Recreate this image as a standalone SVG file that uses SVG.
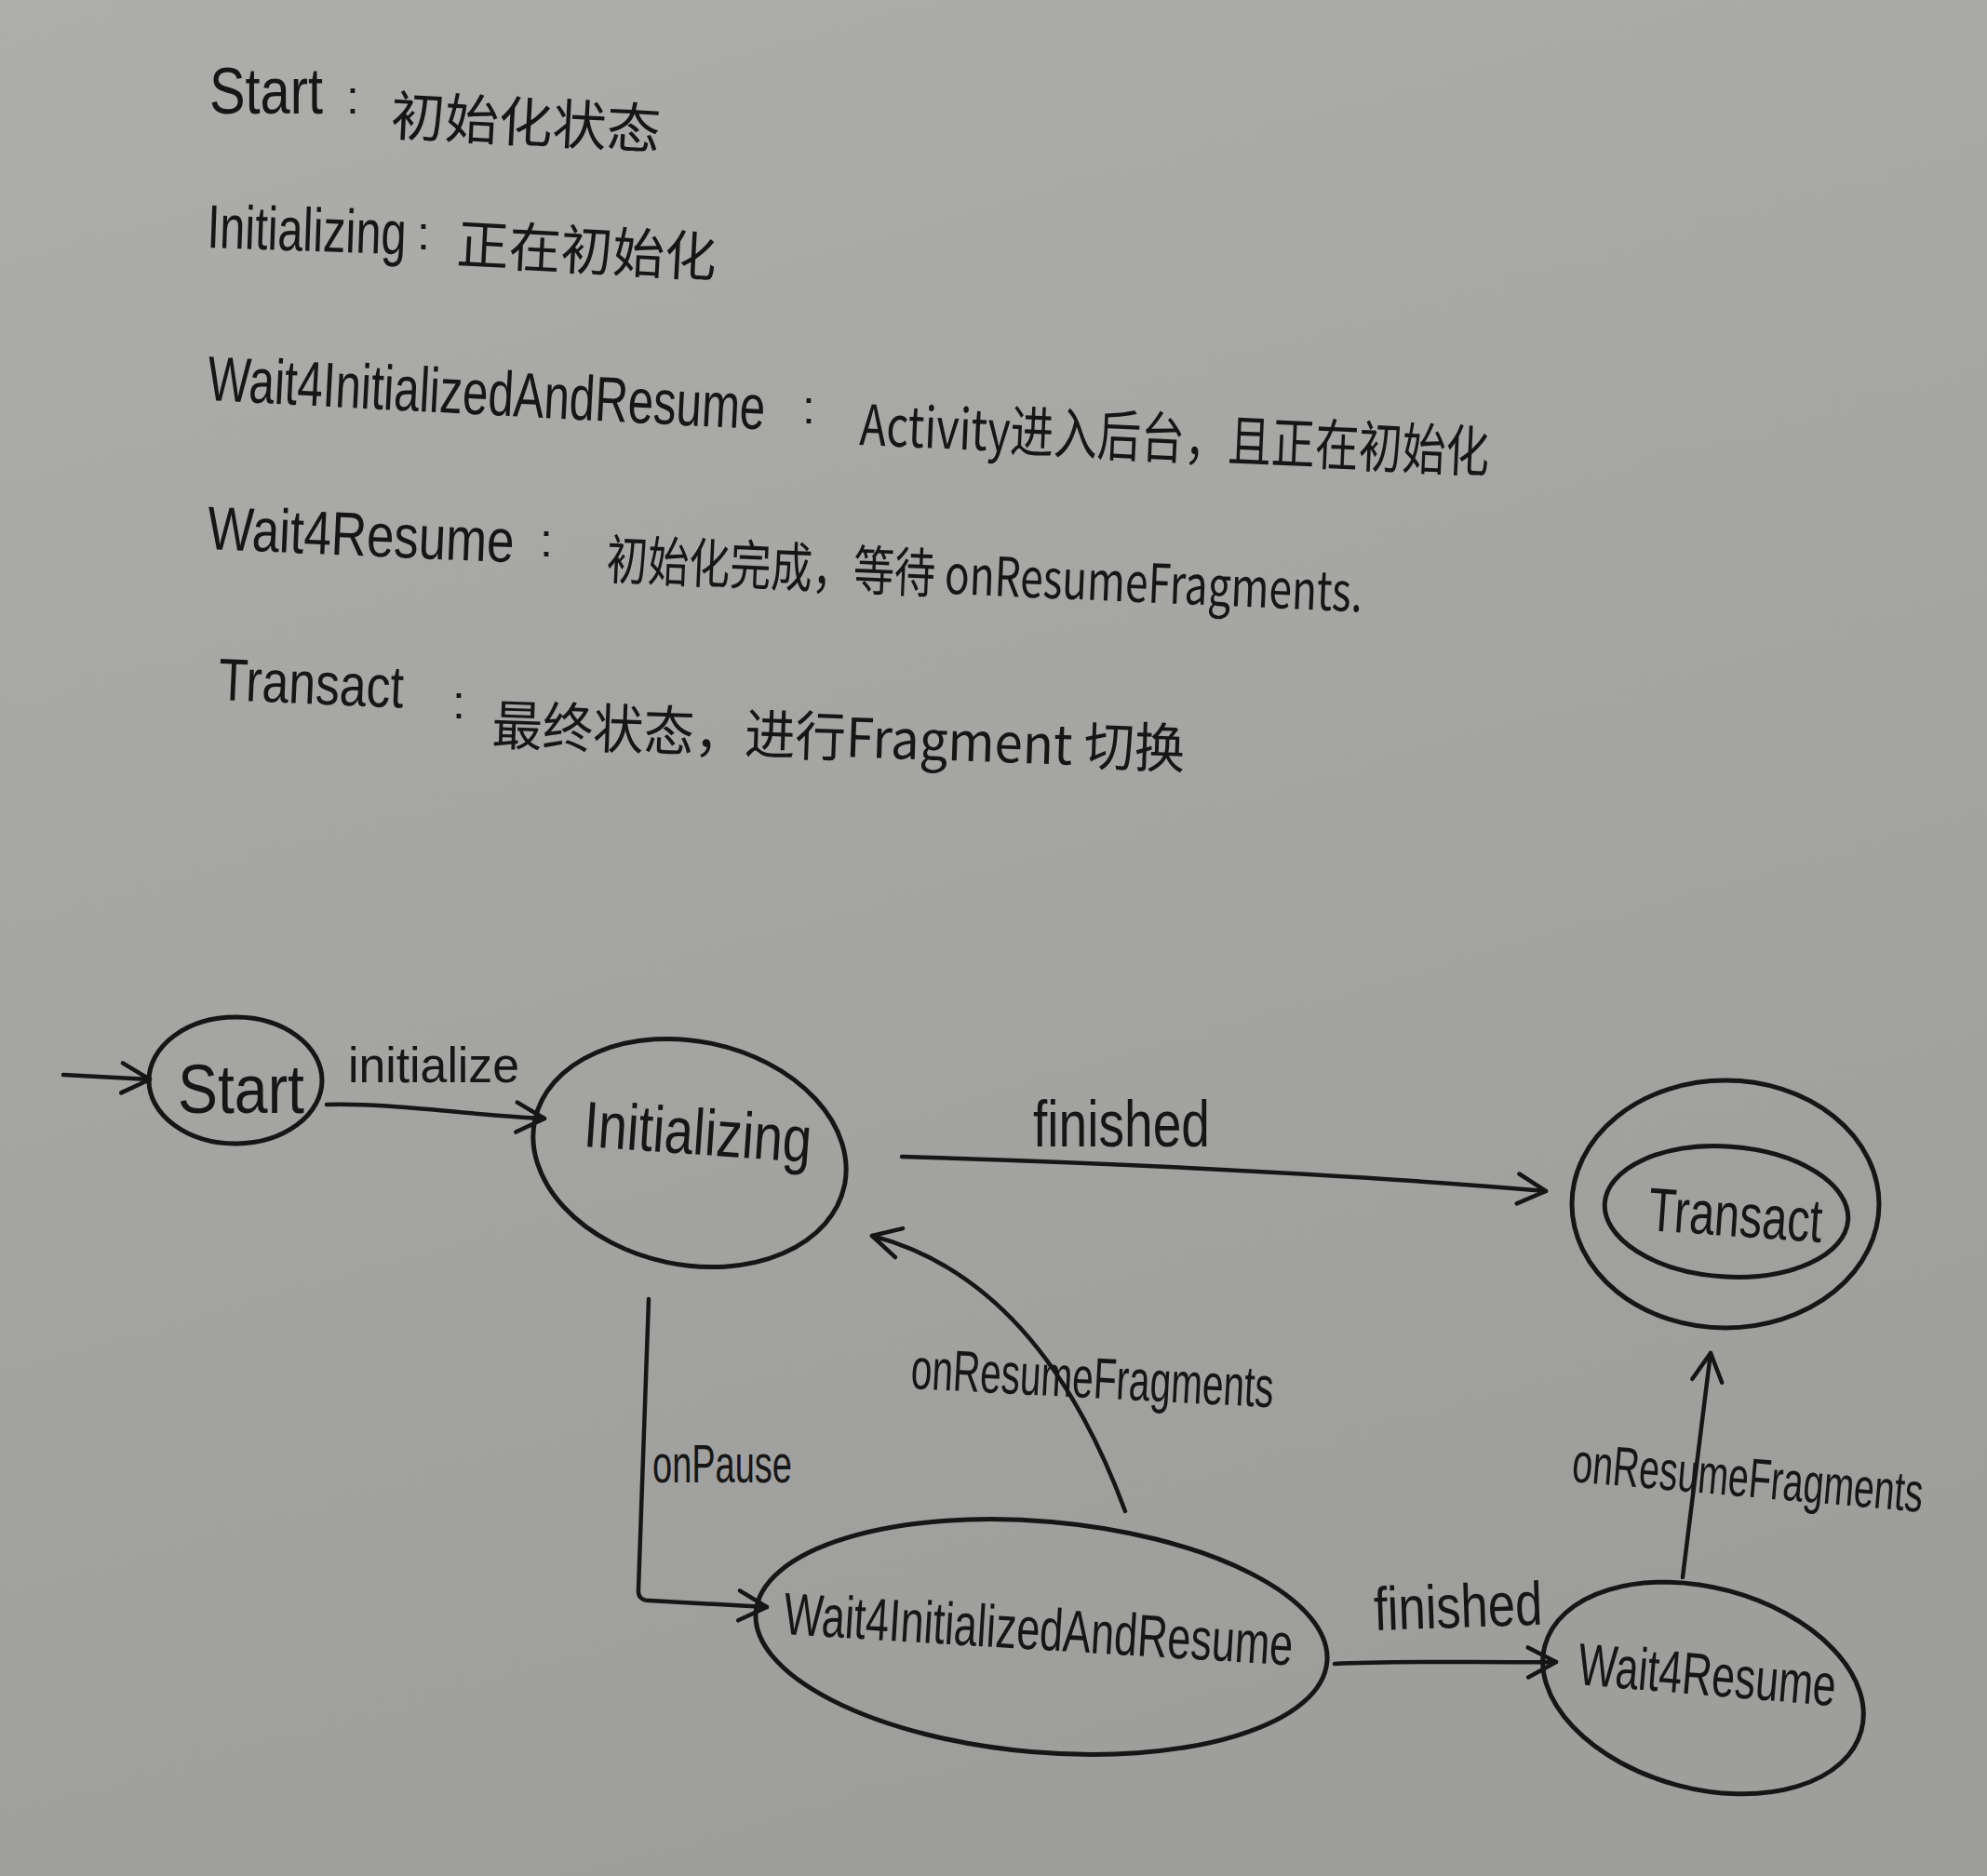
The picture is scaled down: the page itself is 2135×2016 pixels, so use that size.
<svg xmlns="http://www.w3.org/2000/svg" width="2135" height="2016" viewBox="0 0 2135 2016">
<defs>
<linearGradient id="paper" x1="0" y1="0" x2="0.3" y2="1">
<stop offset="0" stop-color="#adadab"/>
<stop offset="1" stop-color="#9e9e9c"/>
</linearGradient>
<marker id="arr" markerUnits="userSpaceOnUse" markerWidth="44" markerHeight="44" viewBox="0 0 44 44" refX="40" refY="22" orient="auto">
<path d="M10,6 L40,22 L10,38" fill="none" stroke="#151515" stroke-width="4.5" stroke-linecap="round" stroke-linejoin="round"/>
</marker>
<style>
.t{font-family:"Liberation Sans","Noto Sans CJK SC",sans-serif;fill:#161616;}
.cn{font-family:"Noto Sans CJK SC",sans-serif;fill:#161616;}
.node{fill:none;stroke:#161616;stroke-width:5;}
.edge{fill:none;stroke:#161616;stroke-width:4.5;stroke-linecap:round;stroke-linejoin:round;}
</style>
</defs>
<rect width="2135" height="2016" fill="url(#paper)"/>

<g id="legend">
<text class="t" x="225" y="122" font-size="70" textLength="122" lengthAdjust="spacingAndGlyphs">Start</text>
<text class="t" x="372" y="122" font-size="50">:</text>
<text class="cn" x="419" y="145" font-size="58" textLength="290" lengthAdjust="spacingAndGlyphs" transform="rotate(3 419 145)">初始化状态</text>

<text class="t" x="222" y="266" font-size="66" textLength="214" lengthAdjust="spacingAndGlyphs" transform="rotate(2 222 266)">Initializing</text>
<text class="t" x="448" y="268" font-size="50">:</text>
<text class="cn" x="490" y="283" font-size="58" textLength="279" lengthAdjust="spacingAndGlyphs" transform="rotate(3 490 283)">正在初始化</text>

<text class="t" x="222" y="430" font-size="68" textLength="600" lengthAdjust="spacingAndGlyphs" transform="rotate(3 222 430)">Wait4InitializedAndResume</text>
<text class="t" x="862" y="455" font-size="50">:</text>
<text class="cn" x="923" y="478" font-size="60" textLength="677" lengthAdjust="spacingAndGlyphs" transform="rotate(2.5 923 478)">Activity进入后台，且正在初始化</text>

<text class="t" x="222" y="590" font-size="66" textLength="330" lengthAdjust="spacingAndGlyphs" transform="rotate(2.5 222 590)">Wait4Resume</text>
<text class="t" x="580" y="598" font-size="50">:</text>
<text class="cn" x="651" y="622" font-size="58" textLength="813" lengthAdjust="spacingAndGlyphs" transform="rotate(2.5 651 622)">初始化完成，等待 onResumeFragments.</text>

<text class="t" x="234" y="752" font-size="64" textLength="199" lengthAdjust="spacingAndGlyphs" transform="rotate(2.5 234 752)">Transact</text>
<text class="t" x="486" y="772" font-size="50">:</text>
<text class="cn" x="528" y="800" font-size="58" textLength="745" lengthAdjust="spacingAndGlyphs" transform="rotate(2 528 800)">最终状态，进行Fragment 切换</text>
</g>

<g id="connectors">
<path class="edge" d="M68,1155 L161,1160" marker-end="url(#arr)"/>
<path class="edge" d="M351,1187 C420,1185 500,1198 585,1202" marker-end="url(#arr)"/>
<path class="edge" d="M969,1243 C1200,1250 1450,1262 1661,1280" marker-end="url(#arr)"/>
<path class="edge" d="M697,1396 L686,1708 Q685,1720 698,1720 L824,1727" marker-end="url(#arr)"/>
<path class="edge" d="M1209,1624 Q1117,1375 937,1328" marker-end="url(#arr)"/>
<path class="edge" d="M1434,1788 C1500,1784 1600,1787 1672,1786" marker-end="url(#arr)"/>
<path class="edge" d="M1808,1695 L1838,1454" marker-end="url(#arr)"/>
<text class="t" x="374" y="1163" font-size="54" textLength="184" lengthAdjust="spacingAndGlyphs">initialize</text>
<text class="t" x="1110" y="1232" font-size="70" textLength="190" lengthAdjust="spacingAndGlyphs">finished</text>
<text class="t" x="701" y="1593" font-size="58" textLength="150" lengthAdjust="spacingAndGlyphs">onPause</text>
<text class="t" x="978" y="1492" font-size="62" textLength="390" lengthAdjust="spacingAndGlyphs" transform="rotate(3 978 1492)">onResumeFragments</text>
<text class="t" x="1477" y="1752" font-size="66" textLength="181" lengthAdjust="spacingAndGlyphs" transform="rotate(-2 1477 1752)">finished</text>
<text class="t" x="1688" y="1592" font-size="60" textLength="378" lengthAdjust="spacingAndGlyphs" transform="rotate(5 1688 1592)">onResumeFragments</text>
</g>

<g id="node-start">
<ellipse class="node" cx="253" cy="1161" rx="93" ry="68"/>
<text class="t" x="191" y="1196" font-size="74" textLength="136" lengthAdjust="spacingAndGlyphs">Start</text>
</g>

<g id="node-initializing">
<ellipse class="node" cx="741" cy="1239" rx="170" ry="120" transform="rotate(12 741 1239)"/>
<text class="t" x="626" y="1232" font-size="70" textLength="245" lengthAdjust="spacingAndGlyphs" transform="rotate(4 626 1232)">Initializing</text>
</g>

<g id="node-transact">
<ellipse class="node" cx="1854" cy="1294" rx="165" ry="133"/>
<ellipse class="node" cx="1855" cy="1302" rx="131" ry="70" transform="rotate(4 1855 1302)"/>
<text class="t" x="1770" y="1322" font-size="66" textLength="187" lengthAdjust="spacingAndGlyphs" transform="rotate(4 1770 1322)">Transact</text>
</g>

<g id="node-wait4initializedandresume">
<ellipse class="node" cx="1119" cy="1759" rx="308" ry="124" transform="rotate(5 1119 1759)"/>
<text class="t" x="841" y="1756" font-size="64" textLength="548" lengthAdjust="spacingAndGlyphs" transform="rotate(3.5 841 1756)">Wait4InitializedAndResume</text>
</g>

<g id="node-wait4resume">
<ellipse class="node" cx="1830" cy="1814" rx="176" ry="108" transform="rotate(15 1830 1814)"/>
<text class="t" x="1694" y="1810" font-size="64" textLength="278" lengthAdjust="spacingAndGlyphs" transform="rotate(4.8 1694 1810)">Wait4Resume</text>
</g>
</svg>
